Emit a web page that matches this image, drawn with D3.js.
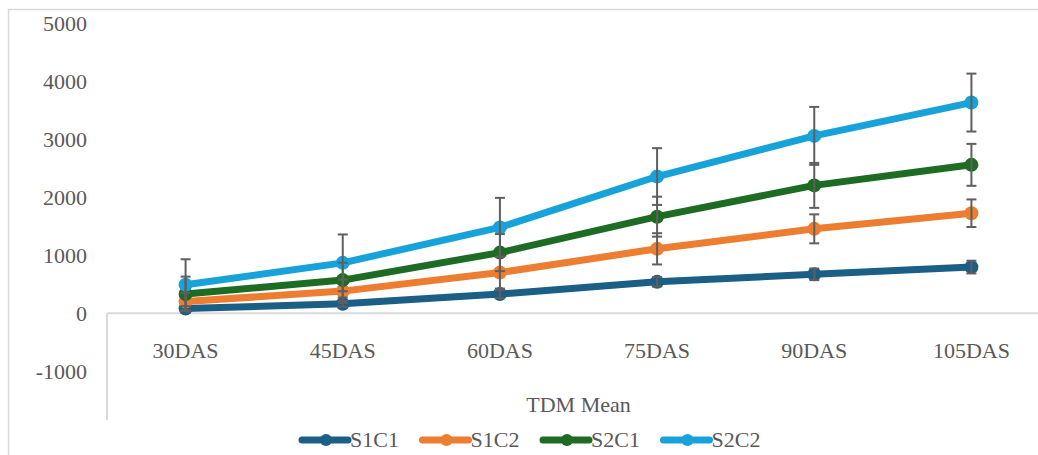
<!DOCTYPE html>
<html>
<head>
<meta charset="utf-8">
<script src="https://cdn.jsdelivr.net/npm/d3@7/dist/d3.min.js"></script>
<style>
  html, body { margin: 0; padding: 0; background: #fff; }
  svg { display: block; }
</style>
</head>
<body>
<svg id="chart" width="1038" height="455"></svg>
<script>
const categories = ["30DAS", "45DAS", "60DAS", "75DAS", "90DAS", "105DAS"];
const seriesNames = ["S1C1", "S1C2", "S2C1", "S2C2"];
const seriesColors = ["#1b5e86", "#ed7d31", "#1e6b24", "#17a2da"];
const S1C1 = [80, 160, 330, 540, 670, 795];
const S1C2 = [200, 380, 700, 1110, 1455, 1725];
const S2C1 = [330, 570, 1045, 1665, 2205, 2560];
const S2C2 = [490, 868, 1480, 2358, 3060, 3635];
const S1C1err = [40, 50, 70, 80, 100, 110];
const S1C2err = [150, 200, 277, 270, 250, 238];
const S2C1err = [300, 300, 320, 345, 388, 362];
const S2C2err = [440, 490, 510, 490, 500, 500];
const yTicks = [-1000, 0, 1000, 2000, 3000, 4000, 5000];
const xTitle = "TDM Mean";

const FONT = "'Liberation Serif', 'DejaVu Serif', serif";
const TEXT_COLOR = "#595959";

const values = [S1C1, S1C2, S2C1, S2C2];
const errors = [S1C1err, S1C2err, S2C1err, S2C2err];
const series = seriesNames.map((name, i) => ({
  name, color: seriesColors[i],
  points: categories.map((c, j) => ({ c, v: values[i][j], e: errors[i][j] }))
}));

const svg = d3.select("#chart");

// outer chart border (cropped)
svg.append("rect").attr("x", 8.5).attr("y", 9.5).attr("width", 1200).attr("height", 600)
  .attr("fill", "none").attr("stroke", "#d9d9d9").attr("stroke-width", 1.5);

const plotLeft = 107, plotRight = 1050;
const x = d3.scalePoint().domain(categories).range([plotLeft, plotRight]).padding(0.5);
const y = d3.scaleLinear().domain([-1845, 5000]).range([420, 23.5]);

function styleText(sel) {
  return sel.attr("font-family", FONT).attr("font-size", 22).attr("fill", TEXT_COLOR);
}

// y tick labels
svg.append("g").selectAll("text").data(yTicks).join("text")
  .attr("x", 87).attr("y", d => y(d)).attr("dy", "0.35em")
  .attr("text-anchor", "end").call(styleText).text(d => d);

// axis lines
svg.append("line").attr("x1", plotLeft).attr("x2", 1038).attr("y1", y(0)).attr("y2", y(0))
  .attr("stroke", "#d9d9d9").attr("stroke-width", 2);
svg.append("line").attr("x1", plotLeft).attr("x2", plotLeft).attr("y1", y(0)).attr("y2", 420)
  .attr("stroke", "#d9d9d9").attr("stroke-width", 2);

// category labels
svg.append("g").selectAll("text").data(categories).join("text")
  .attr("x", d => x(d)).attr("y", 358).attr("text-anchor", "middle")
  .call(styleText).text(d => d);

// x title
svg.append("text").attr("x", (plotLeft + plotRight) / 2).attr("y", 412)
  .attr("text-anchor", "middle").call(styleText).text(xTitle);

// lines
const line = d3.line().x(d => x(d.c)).y(d => y(d.v));
const gS = svg.append("g");
series.forEach(s => {
  const g = gS.append("g");
  g.append("path").datum(s.points).attr("d", line).attr("fill", "none")
    .attr("stroke", s.color).attr("stroke-width", 7).attr("stroke-linejoin", "round");
  g.selectAll("circle").data(s.points).join("circle")
    .attr("cx", d => x(d.c)).attr("cy", d => y(d.v)).attr("r", 7).attr("fill", s.color);
});

// error bars
const gE = svg.append("g").attr("stroke", "#5f5f5f").attr("stroke-width", 2).attr("fill", "none");
series.forEach(s => {
  s.points.forEach(d => {
    const cx = x(d.c), top = y(d.v + d.e), bot = y(d.v - d.e);
    gE.append("line").attr("x1", cx).attr("x2", cx).attr("y1", top).attr("y2", bot);
    gE.append("line").attr("x1", cx - 5).attr("x2", cx + 5).attr("y1", top).attr("y2", top);
    gE.append("line").attr("x1", cx - 5).attr("x2", cx + 5).attr("y1", bot).attr("y2", bot);
  });
});

// legend
const legend = svg.append("g");
series.forEach((s, i) => {
  const lx = 302 + i * 120.5, ly = 440;
  const g = legend.append("g");
  g.append("line").attr("x1", lx).attr("x2", lx + 46).attr("y1", ly).attr("y2", ly)
    .attr("stroke", s.color).attr("stroke-width", 7).attr("stroke-linecap", "round");
  g.append("circle").attr("cx", lx + 24).attr("cy", ly).attr("r", 6).attr("fill", s.color);
  g.append("text").attr("x", lx + 48).attr("y", 447).call(styleText).text(s.name);
});
</script>
</body>
</html>
